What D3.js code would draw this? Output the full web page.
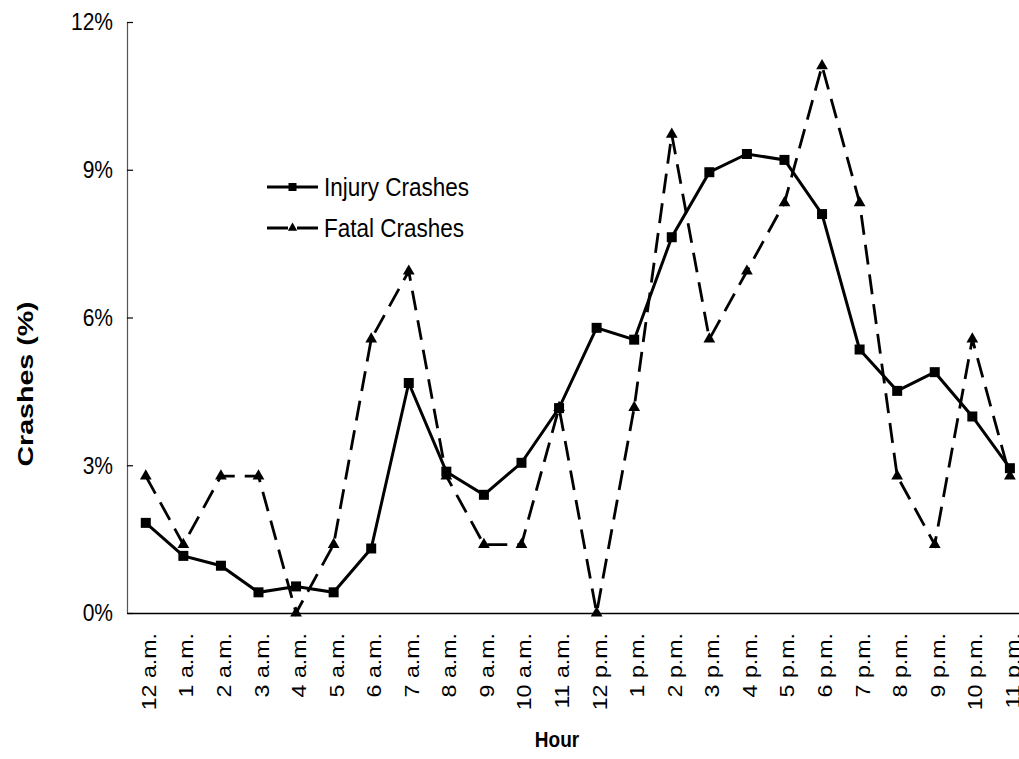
<!DOCTYPE html>
<html>
<head>
<meta charset="utf-8">
<script src="https://cdn.jsdelivr.net/npm/d3@7"></script>
<style>
  html, body { margin: 0; padding: 0; background: #fff; }
  svg { display: block; font-family: "Liberation Sans", Arial, sans-serif; }
</style>
</head>
<body>
<svg id="chart" width="1019" height="759"></svg>
<script>
const hours = ["12 a.m.","1 a.m.","2 a.m.","3 a.m.","4 a.m.","5 a.m.","6 a.m.","7 a.m.","8 a.m.","9 a.m.","10 a.m.","11 a.m.",
               "12 p.m.","1 p.m.","2 p.m.","3 p.m.","4 p.m.","5 p.m.","6 p.m.","7 p.m.","8 p.m.","9 p.m.","10 p.m.","11 p.m."];
const injuryCrashes = [1.83,1.16,0.96,0.42,0.54,0.42,1.31,4.67,2.87,2.40,3.05,4.16,
                       5.79,5.55,7.63,8.95,9.32,9.20,8.10,5.35,4.51,4.89,3.99,2.94];
const fatalCrashes = [2.78,1.39,2.78,2.78,0,1.39,5.56,6.94,2.78,1.39,1.39,4.17,
                      0,4.17,9.72,5.56,6.94,8.33,11.11,8.33,2.78,1.39,5.56,2.78];
const yTicks = [0,3,6,9,12];
const seriesNames = ["Injury Crashes","Fatal Crashes"];

const K = 1.16; // vertical stretch of the original picture's text
const svg = d3.select("#chart");

const x = d3.scaleBand().domain(hours).range([127, 127 + 24 * 37.57]);
const y = d3.scaleLinear().domain([0, 12]).range([613, 22]);
const cx = d => x(d) + x.bandwidth() / 2;

// Y axis
const yAxis = d3.axisLeft(y).tickValues(yTicks).tickFormat(d => d + "%")
  .tickSizeInner(-6).tickSizeOuter(0).tickPadding(14);
const gy = svg.append("g").attr("transform", "translate(127,0)").call(yAxis);
gy.select(".domain").attr("stroke", "#555").attr("stroke-width", 1.2);
gy.selectAll(".tick line").attr("stroke", "#000").attr("stroke-width", 1.2);
gy.selectAll(".tick text").attr("font-size", 21).attr("fill", "#000")
  .attr("font-family", "Liberation Sans, Arial, sans-serif")
  .attr("transform", `scale(1,${K})`);

// X axis
const xAxis = d3.axisBottom(x).tickSize(0).tickSizeOuter(0);
const gx = svg.append("g").attr("transform", "translate(0,613)").call(xAxis);
gx.select(".domain").attr("stroke", "#000").attr("stroke-width", 1.5);
gx.selectAll(".tick text")
  .attr("font-size", 20).attr("fill", "#000")
  .attr("font-family", "Liberation Sans, Arial, sans-serif")
  .attr("text-anchor", "end").attr("x", 0).attr("y", 0).attr("dy", "0.35em")
  .attr("transform", `translate(3,20) scale(1,${K}) rotate(-90)`);

// Lines
const line = d3.line().x((d, i) => cx(hours[i])).y(d => y(d));

svg.append("path").datum(fatalCrashes)
  .attr("d", line).attr("fill", "none").attr("stroke", "#000")
  .attr("stroke-width", 2.8).attr("stroke-dasharray", "20,10");
svg.append("path").datum(injuryCrashes)
  .attr("d", line).attr("fill", "none").attr("stroke", "#000")
  .attr("stroke-width", 3);

const tri = d3.symbol().type(d3.symbolTriangle).size(60);
svg.append("g").selectAll("path").data(fatalCrashes).join("path")
  .attr("d", tri).attr("fill", "#000")
  .attr("transform", (d, i) => `translate(${cx(hours[i])},${y(d)})`);

svg.append("g").selectAll("rect").data(injuryCrashes).join("rect")
  .attr("x", (d, i) => cx(hours[i]) - 5).attr("y", d => y(d) - 5)
  .attr("width", 10).attr("height", 10).attr("fill", "#000");

// Legend
const legY = [187, 228];
const leg = svg.append("g");
seriesNames.forEach((name, i) => {
  const g = leg.append("g").attr("transform", `translate(267,${legY[i]})`);
  g.append("line").attr("x1", 0).attr("x2", 51).attr("y1", 0).attr("y2", 0)
    .attr("stroke", "#000").attr("stroke-width", 3.2)
    .attr("stroke-dasharray", i === 1 ? "21,9" : null);
  if (i === 0) {
    g.append("rect").attr("x", 25.5 - 4).attr("y", -4).attr("width", 8).attr("height", 8).attr("fill", "#000");
  } else {
    g.append("path").attr("d", d3.symbol().type(d3.symbolTriangle).size(38)).attr("fill", "#000")
      .attr("transform", "translate(25.5,0)");
  }
  g.append("text").attr("transform", `translate(57,0) scale(1,${K})`)
    .attr("dy", "0.35em").attr("font-size", 22.5).attr("fill", "#000").text(name);
});

// Axis titles
svg.append("text").attr("transform", `translate(557,747) scale(1,${K})`)
  .attr("text-anchor", "middle").attr("font-size", 19).attr("font-weight", "bold").text("Hour");
svg.append("text").attr("transform", `translate(25,384) scale(1,1.3) rotate(-90)`)
  .attr("text-anchor", "middle").attr("dy", "0.35em").attr("font-size", 22).attr("font-weight", "bold").text("Crashes (%)");
</script>
</body>
</html>
